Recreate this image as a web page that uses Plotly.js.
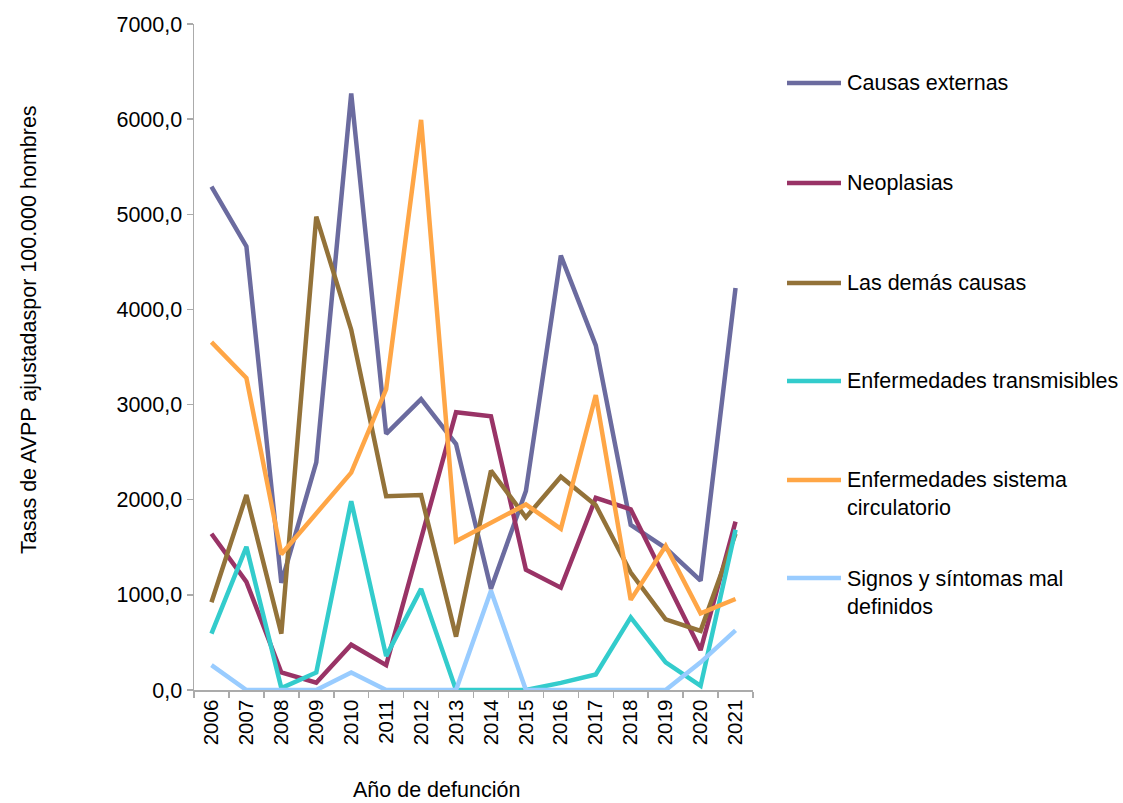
<!DOCTYPE html>
<html>
<head>
<meta charset="utf-8">
<script src="https://cdn.plot.ly/plotly-3.0.1.min.js"></script>
<style>html,body{margin:0;padding:0;background:#fff;}#chart{width:1123px;height:803px;}</style>
</head>
<body>
<div id="chart"></div>
<script>
var years = ["2006","2007","2008","2009","2010","2011","2012","2013","2014","2015","2016","2017","2018","2019","2020","2021"];
var seriesNames = ["Causas externas","Neoplasias","Las demás causas","Enfermedades transmisibles","Enfermedades sistema<br>circulatorio","Signos y síntomas mal<br>definidos"];
var causasExternas = [5290, 4663, 1127, 2392, 6271, 2692, 3056, 2585, 1063, 2092, 4565, 3622, 1736, 1492, 1149, 4226];
var neoplasias     = [1642, 1136, 184, 77, 476, 261, 1590, 2919, 2876, 1264, 1076, 2019, 1899, 1161, 420, 1770];
var lasDemasCausas = [922, 2049, 592, 4976, 3785, 2036, 2049, 561, 2306, 1813, 2242, 1942, 1234, 742, 622, 1642];
var transmisibles  = [592, 1504, 20, 184, 1985, 356, 1063, 0, 0, 0, 75, 163, 763, 291, 43, 1684];
var circulatorio   = [3656, 3279, 1427, 1856, 2285, 3163, 5992, 1564, 1757, 1950, 1693, 3099, 947, 1513, 806, 956];
var signosSintomas = [261, 0, 0, 0, 184, 0, 0, 0, 1042, 0, 0, 0, 0, 0, 291, 626];
var seriesValues = [causasExternas, neoplasias, lasDemasCausas, transmisibles, circulatorio, signosSintomas];
var colors = ["#6B6B9F","#993366","#937239","#33CCCC","#FFA646","#99CCFF"];
var yTitle = "Tasas de AVPP ajustadaspor 100.000 hombres";
var xTitle = "Año de defunción";

var FONT = "Liberation Sans, Arial, sans-serif";
var L = 194, R = 753, T = 24, B = 690, W = 1123, H = 803;
function px2x(p){ return (p - L) / (R - L); }
function py2y(p){ return (B - p) / (B - T); }

var traces = seriesValues.map(function(v, i){
  return {
    type: "scatter", mode: "lines", x: years, y: v,
    name: seriesNames[i].replace("<br>", " "),
    line: {color: colors[i], width: 4.5},
    showlegend: false, hoverinfo: "x+y+name"
  };
});

var legendY = [83, 183, 283, 381, 480, 578];
var shapes = [], annotations = [];
seriesNames.forEach(function(n, i){
  shapes.push({type: "line", xref: "paper", yref: "paper",
    x0: px2x(787), x1: px2x(841), y0: py2y(legendY[i]), y1: py2y(legendY[i]),
    line: {color: colors[i], width: 4.5}});
  var twoLine = n.indexOf("<br>") >= 0;
  annotations.push({xref: "paper", yref: "paper", x: px2x(845), xanchor: "left",
    y: py2y(legendY[i] + (twoLine ? 14.5 : 0)), yanchor: "middle", align: "left",
    text: n, showarrow: false, font: {family: FONT, size: 21.5, color: "#000"}});
});
annotations.push({xref: "paper", yref: "paper", x: px2x(436), y: py2y(790), xanchor: "center", yanchor: "middle",
  text: xTitle, showarrow: false, font: {family: FONT, size: 21.5, color: "#000"}});
annotations.push({xref: "paper", yref: "paper", x: px2x(29), y: py2y(330), xanchor: "center", yanchor: "middle",
  text: yTitle, textangle: -90, showarrow: false, font: {family: FONT, size: 21.5, color: "#000"}});

var layout = {
  width: W, height: H,
  margin: {l: L, r: W - R, t: T, b: H - B, pad: 0},
  paper_bgcolor: "#fff", plot_bgcolor: "#fff",
  separators: ",.",
  showlegend: false,
  font: {family: FONT, size: 21, color: "#000"},
  xaxis: {
    type: "category", range: [-0.5, 15.5], showgrid: false, zeroline: false,
    showline: true, linecolor: "#ABABAB", linewidth: 1.5,
    ticks: "outside", tickson: "boundaries", ticklen: 6, tickcolor: "#ABABAB", tickwidth: 1.5,
    tickangle: -90, tickfont: {family: FONT, size: 20.5, color: "#000"}, automargin: false
  },
  yaxis: {
    range: [0, 7000], dtick: 1000, tick0: 0, tickformat: ".1f",
    showgrid: false, zeroline: false, showline: true, linecolor: "#ABABAB", linewidth: 1.5,
    ticks: "outside", ticklen: 6, tickcolor: "#ABABAB", tickwidth: 1.5,
    tickfont: {family: FONT, size: 21.5, color: "#000"}, automargin: false
  },
  shapes: shapes,
  annotations: annotations
};
Plotly.newPlot("chart", traces, layout, {displayModeBar: false, staticPlot: true});
</script>
</body>
</html>
